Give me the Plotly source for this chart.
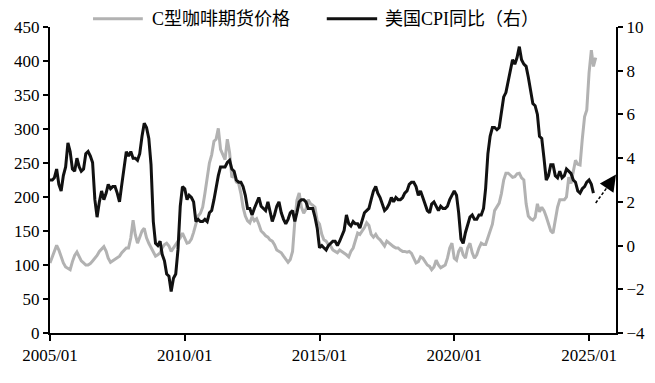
import pandas as pd
import plotly.graph_objects as go
from plotly.subplots import make_subplots

# C型咖啡期货价格 (monthly, 2005/01 - 2025/04)
coffee = [
    103, 112, 122, 129, 122, 112, 103, 97, 95, 93, 105, 114,   # 2005
    119, 112, 106, 103, 100, 100, 102, 106, 110, 114, 120, 124,  # 2006
    127, 120, 110, 104, 106, 108, 110, 113, 118, 122, 125, 125,  # 2007
    140, 166, 145, 132, 140, 150, 154, 140, 132, 125, 118, 113,  # 2008
    115, 118, 125, 130, 132, 128, 120, 125, 130, 135, 140, 147,  # 2009
    140, 132, 133, 138, 148, 160, 172, 176, 185, 205, 225, 250,  # 2010
    262, 282, 285, 301, 270, 262, 255, 285, 265, 229, 232, 222,  # 2011
    220, 205, 185, 172, 165, 162, 171, 165, 168, 160, 150, 147,  # 2012
    143, 141, 137, 135, 130, 122, 120, 118, 113, 108, 104, 108,  # 2013
    120, 165, 195, 206, 185, 176, 182, 196, 190, 188, 185, 165,  # 2014
    160, 145, 137, 135, 130, 128, 122, 120, 118, 122, 120, 118,  # 2015
    115, 112, 120, 125, 135, 147, 145, 150, 155, 162, 158, 145,  # 2016
    141, 145, 140, 137, 132, 128, 135, 132, 130, 127, 125, 125,  # 2017
    122, 120, 120, 119, 120, 117, 110, 103, 105, 112, 110, 105,  # 2018
    100, 98, 93, 97, 107, 100, 96, 98, 100, 110, 125, 132,       # 2019
    110, 107, 120, 126, 115, 110, 125, 132, 118, 110, 115, 125,  # 2020
    132, 130, 130, 140, 150, 160, 180, 185, 191, 205, 225, 235,  # 2021
    235, 232, 229, 230, 234, 235, 228, 225, 190, 172, 168, 166,  # 2022
    170, 190, 178, 185, 180, 171, 160, 150, 147, 165, 185, 196,  # 2023
    196, 196, 200, 229, 220, 235, 254, 248, 247, 285, 318, 328,  # 2024
    383, 416, 392, 405,                                          # 2025
]

# 美国CPI同比 (%, monthly, 2005/01 - 2025/03)
cpi = [
    3.0, 3.0, 3.1, 3.5, 2.8, 2.5, 3.2, 3.6, 4.7, 4.3, 3.5, 3.4,
    4.0, 3.6, 3.4, 3.5, 4.2, 4.3, 4.1, 3.8, 2.1, 1.3, 2.0, 2.5,
    2.1, 2.4, 2.8, 2.6, 2.7, 2.7, 2.4, 2.0, 2.8, 3.5, 4.3, 4.1,
    4.3, 4.0, 4.0, 3.9, 4.2, 5.0, 5.6, 5.4, 4.9, 3.7, 1.1, 0.1,
    0.0, 0.2, -0.4, -0.7, -1.3, -1.4, -2.1, -1.5, -1.3, -0.2, 1.8, 2.7,
    2.6, 2.1, 2.3, 2.2, 2.0, 1.1, 1.2, 1.1, 1.1, 1.2, 1.1, 1.5,
    1.6, 2.1, 2.7, 3.2, 3.6, 3.6, 3.6, 3.8, 3.9, 3.5, 3.4, 3.0,
    2.9, 2.9, 2.7, 2.3, 1.7, 1.7, 1.4, 1.7, 2.0, 2.2, 1.8, 1.7,
    1.6, 2.0, 1.5, 1.1, 1.4, 1.8, 2.0, 1.5, 1.2, 1.0, 1.2, 1.5,
    1.6, 1.1, 1.5, 2.0, 2.1, 2.1, 2.0, 1.7, 1.7, 1.7, 1.3, 0.8,
    -0.1, 0.0, -0.1, -0.2, 0.0, 0.1, 0.2, 0.2, 0.0, 0.2, 0.5, 0.7,
    1.4, 1.0, 0.9, 1.1, 1.0, 1.0, 0.8, 1.1, 1.5, 1.6, 1.7, 2.1,
    2.5, 2.7, 2.4, 2.2, 1.9, 1.6, 1.7, 1.9, 2.2, 2.0, 2.2, 2.1,
    2.1, 2.2, 2.4, 2.5, 2.8, 2.9, 2.9, 2.7, 2.3, 2.5, 2.2, 1.9,
    1.6, 1.5, 1.9, 2.0, 1.8, 1.6, 1.8, 1.7, 1.7, 1.8, 2.1, 2.3,
    2.5, 2.3, 1.5, 0.3, 0.1, 0.6, 1.0, 1.3, 1.4, 1.2, 1.2, 1.4,
    1.4, 1.7, 2.6, 4.2, 5.0, 5.4, 5.4, 5.3, 5.4, 6.2, 6.8, 7.0,
    7.5, 7.9, 8.5, 8.3, 8.6, 9.1, 8.5, 8.3, 8.2, 7.7, 7.1, 6.5,
    6.4, 6.0, 5.0, 4.9, 4.0, 3.0, 3.2, 3.7, 3.7, 3.2, 3.1, 3.4,
    3.1, 3.2, 3.5, 3.4, 3.3, 3.0, 2.9, 2.5, 2.4, 2.6, 2.7, 2.9,
    3.0, 2.8, 2.4,
]

coffee_dates = pd.date_range("2005-01-01", periods=len(coffee), freq="MS")
cpi_dates = pd.date_range("2005-01-01", periods=len(cpi), freq="MS")

x_ticks = ["2005-01-01", "2010-01-01", "2015-01-01", "2020-01-01", "2025-01-01"]
x_range = ["2005-01-01", "2026-01-01"]

name_coffee = "C型咖啡期货价格"
name_cpi = "美国CPI同比（右）"

SERIF = "Liberation Serif, Noto Sans CJK SC, serif"

fig = make_subplots(specs=[[{"secondary_y": True}]])
fig.add_trace(go.Scatter(x=coffee_dates, y=coffee, mode="lines", name=name_coffee,
                         line=dict(color="#b2b2b2", width=3)), secondary_y=False)
fig.add_trace(go.Scatter(x=cpi_dates, y=cpi, mode="lines", name=name_cpi,
                         line=dict(color="#111111", width=3)), secondary_y=True)

axis_common = dict(showgrid=False, zeroline=False, showline=True, linecolor="black",
                   linewidth=2, ticks="outside", tickcolor="black", tickwidth=2,
                   automargin=False,
                   tickfont=dict(family=SERIF, size=17, color="black"))

fig.update_xaxes(type="date", range=x_range, tickvals=x_ticks, tickformat="%Y/%m",
                 ticklen=6, domain=[0, 1], **axis_common)
fig.update_yaxes(range=[0, 450], dtick=50, ticklen=5, secondary_y=False, **axis_common)
fig.update_yaxes(range=[-4, 10], dtick=2, ticklen=5, secondary_y=True, **axis_common)

# manual legend (longer line samples as in the reference)
legend_items = [(0.076, 0.164, 0.177, "#b2b2b2", name_coffee),
                (0.489, 0.578, 0.588, "#111111", name_cpi)]
for x0, x1, xt, col, txt in legend_items:
    fig.add_shape(type="line", xref="paper", yref="paper", x0=x0, x1=x1, y0=1.027, y1=1.027,
                  line=dict(color=col, width=3))
    fig.add_annotation(xref="paper", yref="paper", x=xt, y=1.027, text=txt, showarrow=False,
                       xanchor="left", yanchor="middle",
                       font=dict(family=SERIF, size=18, color="black"))

# dashed arrow pointing to the right axis
fig.add_shape(type="line", xref="x", yref="y2", x0="2025-04-01", y0=1.95, x1="2025-09-15", y1=2.72,
              line=dict(color="black", width=1.5, dash="3px,2px"))
fig.add_annotation(xref="x", yref="y2", axref="x", ayref="y2", x="2026-01-01", y=3.25,
                   ax="2025-09-01", ay=2.65, showarrow=True, arrowhead=2, arrowsize=2.2,
                   arrowwidth=1.5, arrowcolor="black", text="")

fig.update_layout(width=655, height=383, autosize=False,
                  margin=dict(l=50, r=39, t=27, b=50),
                  plot_bgcolor="white", paper_bgcolor="white", showlegend=False,
                  font=dict(family=SERIF, color="black"))

fig.write_html("out.html", config={"responsive": False, "displayModeBar": False},
               post_script="document.body.style.margin='0';document.body.style.overflow='hidden';")
